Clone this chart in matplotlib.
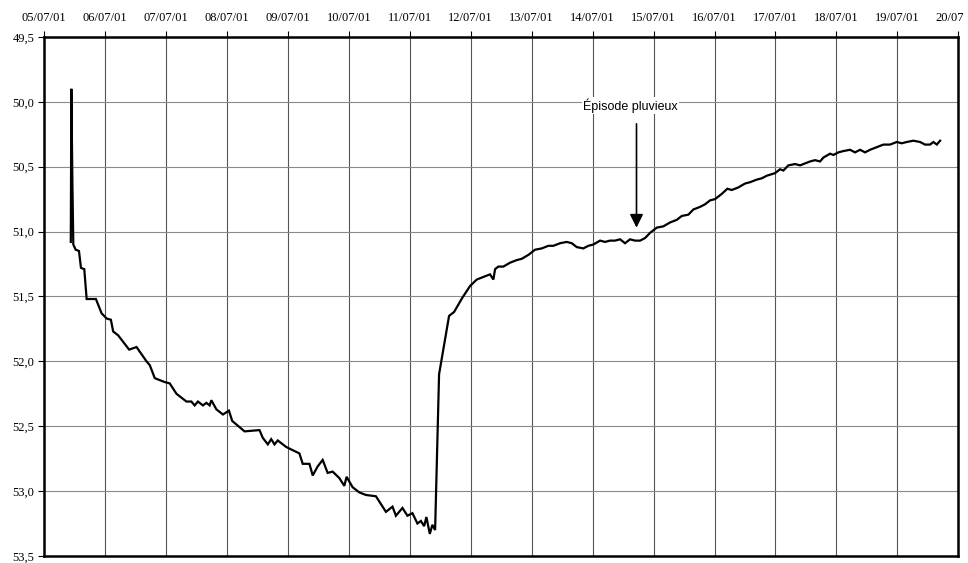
import matplotlib
matplotlib.use("Agg")
import matplotlib.pyplot as plt
import matplotlib.transforms as mtransforms

# Time in days since 05/07/01 00:00, water level (m, depth axis inverted)
days = [0.439, 0.448, 0.465, 0.480, 0.519, 0.573, 0.606, 0.660, 0.699, 0.851,
        0.944, 1.026, 1.097, 1.134, 1.216, 1.396, 1.517, 1.681, 1.735, 1.817,
        1.980, 2.062, 2.172, 2.336, 2.417, 2.471, 2.525, 2.607, 2.663, 2.717,
        2.745, 2.827, 2.935, 3.033, 3.088, 3.290, 3.535, 3.589, 3.671, 3.727,
        3.781, 3.835, 3.972, 4.190, 4.244, 4.354, 4.408, 4.489, 4.571, 4.653,
        4.735, 4.845, 4.926, 4.964, 5.062, 5.172, 5.281, 5.445, 5.609, 5.717,
        5.773, 5.880, 5.962, 6.044, 6.126, 6.182, 6.236, 6.273, 6.329, 6.371,
        6.416, 6.481, 6.645, 6.727, 6.863,
        6.989, 7.099, 7.208, 7.317, 7.372, 7.400, 7.454, 7.536, 7.646, 7.756,
        7.838, 7.946, 8.056, 8.166, 8.274, 8.356, 8.466, 8.576, 8.658, 8.740,
        8.848, 8.930, 9.012, 9.122, 9.204, 9.286, 9.368, 9.451, 9.532, 9.614,
        9.696, 9.779, 9.861, 9.943, 10.052, 10.161, 10.271, 10.381, 10.463, 10.571,
        10.653, 10.763, 10.845, 10.927, 11.009, 11.119, 11.211, 11.283, 11.391, 11.501,
        11.583, 11.693, 11.775, 11.857, 11.993, 12.075, 12.130, 12.212, 12.322, 12.404,
        12.514, 12.568, 12.650, 12.732, 12.786, 12.896, 12.950, 13.032, 13.114, 13.224,
        13.306, 13.388, 13.470, 13.552, 13.662, 13.770, 13.880, 13.990, 14.072, 14.154,
        14.263, 14.372, 14.455, 14.536, 14.591, 14.647, 14.701]
level = [51.08, 49.90, 50.62, 51.10, 51.14, 51.15, 51.28, 51.29, 51.52, 51.52,
         51.63, 51.67, 51.68, 51.77, 51.80, 51.91, 51.89, 52.00, 52.03, 52.13,
         52.16, 52.17, 52.25, 52.31, 52.31, 52.34, 52.31, 52.34, 52.32, 52.34,
         52.30, 52.37, 52.41, 52.38, 52.46, 52.54, 52.53, 52.59, 52.64, 52.60,
         52.64, 52.61, 52.66, 52.71, 52.79, 52.79, 52.88, 52.81, 52.76, 52.86,
         52.85, 52.90, 52.96, 52.89, 52.97, 53.01, 53.03, 53.04, 53.16, 53.12,
         53.19, 53.13, 53.19, 53.17, 53.25, 53.23, 53.27, 53.20, 53.33, 53.26,
         53.30, 52.10, 51.65, 51.62, 51.51,
         51.42, 51.37, 51.35, 51.33, 51.37, 51.29, 51.27, 51.27, 51.24, 51.22,
         51.21, 51.18, 51.14, 51.13, 51.11, 51.11, 51.09, 51.08, 51.09, 51.12,
         51.13, 51.11, 51.10, 51.07, 51.08, 51.07, 51.07, 51.06, 51.09, 51.06,
         51.07, 51.07, 51.05, 51.01, 50.97, 50.96, 50.93, 50.91, 50.88, 50.87,
         50.83, 50.81, 50.79, 50.76, 50.75, 50.71, 50.67, 50.68, 50.66, 50.63,
         50.62, 50.60, 50.59, 50.57, 50.55, 50.52, 50.53, 50.49, 50.48, 50.49,
         50.47, 50.46, 50.45, 50.46, 50.43, 50.40, 50.41, 50.39, 50.38, 50.37,
         50.39, 50.37, 50.39, 50.37, 50.35, 50.33, 50.33, 50.31, 50.32, 50.31,
         50.30, 50.31, 50.33, 50.33, 50.31, 50.33, 50.30]

date_labels = ["05/07/01", "06/07/01", "07/07/01", "08/07/01", "09/07/01",
               "10/07/01", "11/07/01", "12/07/01", "13/07/01", "14/07/01",
               "15/07/01", "16/07/01", "17/07/01", "18/07/01", "19/07/01",
               "20/07"]
y_ticks = [49.5, 50.0, 50.5, 51.0, 51.5, 52.0, 52.5, 53.0, 53.5]
y_labels = ["49,5", "50,0", "50,5", "51,0", "51,5", "52,0", "52,5", "53,0", "53,5"]

annot_text = "Épisode pluvieux"
annot_day = 9.72
annot_tip = 50.97
annot_tail = 50.17
annot_text_y = 50.03

fig = plt.figure(figsize=(9.68, 5.63), dpi=100)
ax = fig.add_axes([0.0455, 0.0125, 0.9445, 0.922])

ax.plot(days, level, color="black", lw=1.6, solid_joinstyle="miter")

ax.set_xlim(0, 15)
ax.set_ylim(53.5, 49.5)
ax.set_xticks(range(len(date_labels)))
ax.set_xticklabels(date_labels, fontfamily="Liberation Serif", fontsize=9)
ax.xaxis.tick_top()
ax.set_yticks(y_ticks)
ax.set_yticklabels(y_labels, fontfamily="Liberation Serif", fontsize=9)
ax.tick_params(axis="x", length=4, width=0.8, pad=5, colors="black")
ax.tick_params(axis="y", length=4, width=0.8, pad=3, colors="black")

# last date label is cut by the frame edge in the original; keep it inside
last = ax.get_xticklabels()[-1]
last.set_transform(last.get_transform() +
                   mtransforms.ScaledTranslation(-6 / 72, 0, fig.dpi_scale_trans))

ax.grid(axis="x", color="#555555", lw=0.8)
ax.grid(axis="y", color="#8a8a8a", lw=0.8)
for sp in ax.spines.values():
    sp.set_linewidth(1.8)
    sp.set_color("black")

ax.annotate("", xy=(annot_day, annot_tip), xytext=(annot_day, annot_tail),
            arrowprops=dict(arrowstyle="-|>", color="black", lw=1.2,
                            mutation_scale=20, shrinkA=0, shrinkB=0))
ax.text(annot_day - 0.1, annot_text_y, annot_text, ha="center", va="center",
        fontfamily="Liberation Sans", fontsize=9, color="black",
        bbox=dict(facecolor="white", edgecolor="none", pad=1))

fig.savefig("out.png", dpi=100)
